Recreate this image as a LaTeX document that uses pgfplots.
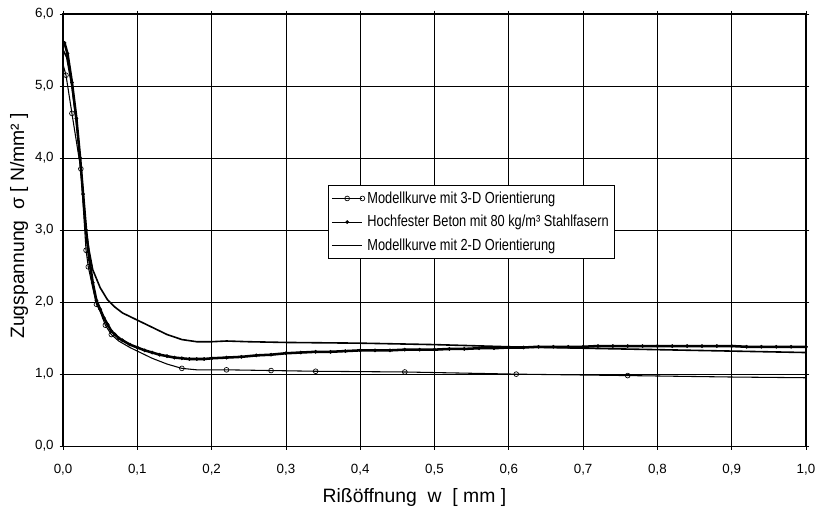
\documentclass[border=0pt]{standalone}
\usepackage{fontspec}
\setmainfont{Liberation Sans}
\newfontfamily\narrowfont[FakeStretch=0.8]{Liberation Sans}
\usepackage{pgfplots}
\pgfplotsset{compat=1.18}

\begin{document}
\begin{tikzpicture}
\begin{axis}[
    scale only axis,
    width=557pt, height=324pt,
    xmin=0, xmax=1, ymin=0, ymax=6,
    xtick={0,0.1,0.2,0.3,0.4,0.5,0.6,0.7,0.8,0.9,1.0},
    ytick={0,1,2,3,4,5,6},
    grid=major,
    major grid style={black, line width=0.6pt},
    axis line style={black, line width=0.8pt},
    tick align=center,
    major tick length=5pt,
    tick style={black, line width=0.6pt},
    xticklabel style={font=\fontsize{10}{11}\selectfont, yshift=-7.5pt},
    yticklabel style={font=\fontsize{10}{11}\selectfont, xshift=-1pt},
    xticklabel={\pgfmathprintnumber[fixed, fixed zerofill, precision=1, use comma, assume math mode=true]{\tick}},
    yticklabel={\pgfmathprintnumber[fixed, fixed zerofill, precision=1, use comma, assume math mode=true]{\tick}},
    xlabel={Rißöffnung\ \ w\ \ [ mm ]},
    ylabel={Zugspannung\ \ σ [ N/mm² ]},
    xlabel style={font=\fontsize{14.5}{16}\selectfont,
        at={(axis description cs:0.473,-0.118)}, anchor=center},
    ylabel style={font=\fontsize{14.5}{16}\selectfont,
        at={(axis description cs:-0.059,0.51)}, anchor=center},
    legend style={at={(axis description cs:0.357,0.604)}, anchor=north west,
        draw=black, line width=0.8pt, fill=white,
        font=\narrowfont\fontsize{12}{13}\selectfont, row sep=3.5pt,
        inner xsep=2pt, inner ysep=2.5pt},
    legend cell align=left,
    legend image code/.code={
        \draw[mark repeat=2, mark phase=2, #1]
            plot coordinates {(0cm,0cm) (0.4cm,0cm) (0.8cm,0cm)};},
    legend image post style={line width=0.8pt},
]
\coordinate (SW) at (rel axis cs:0,0);
\coordinate (NE) at (rel axis cs:1,1);
% Modellkurve 3-D
\addplot[black, line width=0.8pt, mark=o, mark size=1.8pt,
    mark options={line width=0.5pt, fill=white},
    mark indices={2,3,5,7,8,10,12,13,19,21,22,23,24,25,26}] coordinates {
    (0.0,5.3) (0.004,5.15) (0.012,4.62) (0.02,4.1) (0.024,3.85)
    (0.028,3.2) (0.031,2.72) (0.034,2.49) (0.04,2.2) (0.045,1.97)
    (0.05,1.87) (0.057,1.68) (0.065,1.55) (0.075,1.46) (0.09,1.37)
    (0.1,1.32) (0.12,1.22) (0.14,1.14) (0.16,1.08) (0.18,1.06)
    (0.22,1.06) (0.28,1.05) (0.34,1.04) (0.46,1.03) (0.61,1.0)
    (0.76,0.98) (0.9,0.96) (1.0,0.95)
};
\addlegendentry{Modellkurve mit 3-D Orientierung}
% Messung
\addplot[black, line width=1.9pt, mark=*, mark size=1.2pt,
    mark options={line width=0.4pt}] coordinates {
    (0.002,5.6) (0.006,5.45) (0.012,5.05) (0.018,4.55) (0.023,4.0)
    (0.027,3.5) (0.031,3.0) (0.035,2.62) (0.04,2.27) (0.045,2.02)
    (0.05,1.9) (0.055,1.78) (0.06,1.69) (0.065,1.6) (0.07,1.55)
    (0.075,1.5) (0.08,1.47) (0.09,1.41) (0.1,1.37) (0.11,1.33)
    (0.12,1.3) (0.13,1.27) (0.14,1.25) (0.15,1.23) (0.16,1.22)
    (0.17,1.21) (0.18,1.21) (0.19,1.21) (0.2,1.22) (0.22,1.23)
    (0.24,1.24) (0.26,1.26) (0.28,1.27) (0.3,1.29) (0.32,1.30)
    (0.34,1.31) (0.36,1.31) (0.38,1.32) (0.4,1.33) (0.42,1.33)
    (0.44,1.33) (0.46,1.34) (0.48,1.34) (0.5,1.34) (0.52,1.35)
    (0.54,1.35) (0.56,1.36) (0.58,1.36) (0.6,1.37) (0.62,1.37)
    (0.64,1.38) (0.66,1.38) (0.68,1.38) (0.7,1.38) (0.72,1.39)
    (0.74,1.39) (0.76,1.39) (0.78,1.39) (0.8,1.39) (0.82,1.39)
    (0.84,1.39) (0.86,1.39) (0.88,1.39) (0.9,1.39) (0.92,1.38)
    (0.94,1.38) (0.96,1.38) (0.98,1.38) (1.0,1.38)
};
\addlegendentry{Hochfester Beton mit 80 kg/m³ Stahlfasern}
% Modellkurve 2-D
\addplot[black, line width=1.2pt, no markers] coordinates {
    (0.0,5.5) (0.005,5.4) (0.012,5.0) (0.018,4.5) (0.023,4.0)
    (0.027,3.5) (0.031,3.0) (0.035,2.72) (0.04,2.45) (0.05,2.2)
    (0.06,2.03) (0.07,1.93) (0.08,1.85) (0.1,1.75) (0.12,1.65)
    (0.14,1.55) (0.16,1.48) (0.18,1.45) (0.2,1.45) (0.22,1.46)
    (0.25,1.45) (0.3,1.44) (0.4,1.43) (0.5,1.41) (0.6,1.38)
    (0.7,1.36) (0.8,1.34) (0.9,1.32) (1.0,1.3)
};
\addlegendentry{Modellkurve mit 2-D Orientierung}
\end{axis}
\pgfresetboundingbox
\path[use as bounding box] ([shift={(-47.25pt,-46.5pt)}]SW) rectangle ([shift={(6.75pt,10.5pt)}]NE);
\end{tikzpicture}
\end{document}
